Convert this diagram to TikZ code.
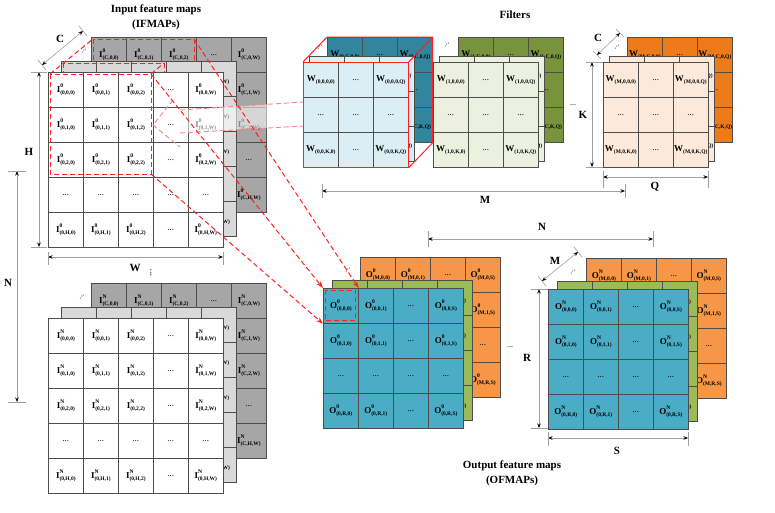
\documentclass[tikz,border=0pt]{standalone}
\usepackage{fontspec}
\setmainfont{Liberation Serif}
\usetikzlibrary{arrows.meta}
\definecolor{cellgray}{HTML}{4D4D4D}
\definecolor{ifback}{HTML}{A6A6A6}
\definecolor{ifmid}{HTML}{D9D9D9}
\definecolor{fzback}{HTML}{31859C}
\definecolor{fzfront}{HTML}{DBEEF4}
\definecolor{foback}{HTML}{77933C}
\definecolor{fofront}{HTML}{EBF1DE}
\definecolor{fmback}{HTML}{EE7B1A}
\definecolor{fmfront}{HTML}{FDE9D9}
\definecolor{ofront}{HTML}{4BACC6}
\definecolor{omid}{HTML}{9BBB59}
\definecolor{oback}{HTML}{F79646}
\definecolor{dimgray}{HTML}{A0A0A0}
\definecolor{redd}{HTML}{FF2020}

\newcommand\supsub[3]{\textbf{#1}\makebox[0pt][l]{\raisebox{4.7pt}{\fontsize{5.6}{5}\selectfont\textbf{#2}}}\raisebox{-2.4pt}{\fontsize{5.5}{5}\selectfont\textbf{(#3)}}}
\newcommand\Ic[2]{\supsub{I}{#1}{#2}}
\newcommand\Oc[2]{\supsub{O}{#1}{#2}}
\newcommand\Wc[1]{\textbf{W}\raisebox{-1.8pt}{\fontsize{5.5}{5}\selectfont\textbf{(#1)}}}
\newcommand\dd{...}
\newcommand\IFtext[4]{\ifnum#3=4 \dd\else\ifnum#4=4 \dd\else\Ic{#1}{#2,\ifcase#3\or0\or1\or2\or\or H\fi,\ifcase#4\or0\or1\or2\or\or W\fi}\fi\fi}
\newcommand\IFback[4]{\ifnum#3=1 \IFtext{#1}{#2}{#3}{#4}\else\ifnum#4=5 \IFtext{#1}{#2}{#3}{#4}\fi\fi}
\newcommand\IFmid[4]{\ifnum#4=5 \IFtext{#1}{#2}{#3}{#4}\fi}
\newcommand\Wtext[3]{\ifnum#2=2 \dd\else\ifnum#3=2 \dd\else\Wc{#1,\ifcase#2\or0\or\or K\fi,\ifcase#3\or0\or\or Q\fi}\fi\fi}
\newcommand\Wback[3]{\ifnum#2=1 \Wtext{#1}{#2}{#3}\else\ifnum#3=3 \Wtext{#1}{#2}{#3}\fi\fi}
\newcommand\Wmid[3]{\ifnum#3=3 \Wtext{#1}{#2}{#3}\fi}
\newcommand\Otext[4]{\ifnum#3=3 \dd\else\ifnum#4=3 \dd\else\Oc{#1}{#2,\ifcase#3\or0\or1\or\or R\fi,\ifcase#4\or0\or1\or\or S\fi}\fi\fi}
\newcommand\Oback[4]{\ifnum#3=1 \Otext{#1}{#2}{#3}{#4}\else\ifnum#4=4 \Otext{#1}{#2}{#3}{#4}\fi\fi}
\newcommand\Omid[4]{\ifnum#4=4 \Otext{#1}{#2}{#3}{#4}\fi}
\newcommand\drawlayer[7]{%
  \foreach \rr in {1,...,#5}{%
    \foreach \cc in {1,...,#4}{%
      \node[cellbox, fill=#6, anchor=north west] (#1-\rr-\cc) at ({#2+(\cc-1)*35},{#3+(\rr-1)*35}) {#7{\rr}{\cc}};
    }%
  }%
}

\begin{document}
\begin{tikzpicture}[x=1pt,y=-1pt,
  cellbox/.style={draw=cellgray, line width=0.7pt, minimum width=35pt, minimum height=35pt, inner sep=0pt, font=\fontsize{9}{9}\selectfont},
  dimline/.style={draw=dimgray, line width=0.6pt, {Stealth[length=4.5pt,width=3.5pt,color=black]}-{Stealth[length=4.5pt,width=3.5pt,color=black]}},
  extline/.style={draw=dimgray, line width=0.6pt},
  dimlabel/.style={font=\fontsize{11}{12}\selectfont\bfseries, inner sep=0pt},
  title/.style={font=\fontsize{11}{15}\selectfont\bfseries, align=center},
  reddash/.style={draw=redd, line width=1pt, dash pattern=on 5pt off 3pt},
  redarrow/.style={reddash, -{Stealth[length=7pt,width=5pt,color=redd]}},
  fade/.style={draw=redd!55, line width=0.9pt, dash pattern=on 5pt off 3pt},
  dots/.style={font=\fontsize{8}{8}\selectfont, inner sep=0pt},
  redcube/.style={draw=redd, line width=1pt, line join=round}
]
\useasboundingbox (0,0) rectangle (775,512);

% titles
\node[title] (tin) at (156,17) {Input feature maps\\(IFMAPs)};
\node[title] (tf) at (515,15) {Filters};
\node[title] (tout) at (512,473) {Output feature maps\\(OFMAPs)};

% IFMAP 0
\drawlayer{iab}{91}{37}{5}{5}{ifback}{\IFback{0}{C}}
\draw[reddash] (93,39) rectangle (194,139);
\drawlayer{iam}{61}{61}{5}{5}{ifmid}{\IFmid{0}{1}}
\draw[reddash] (63,63) rectangle (164,163);
\drawlayer{iaf}{48}{72}{5}{5}{white}{\IFtext{0}{0}}
\draw[reddash] (50,74) rectangle (151,174);
\draw[reddash] (50,74) -- (93,39);
\draw[reddash] (151,74) -- (164,63);
\node[dots, rotate=40] (dga) at (84,51) {...};

% IFMAP N
\drawlayer{inb}{91}{283}{5}{5}{ifback}{\IFback{N}{C}}
\drawlayer{inm}{61}{307}{5}{5}{ifmid}{\IFmid{N}{1}}
\drawlayer{inf}{48}{318}{5}{5}{white}{\IFtext{N}{0}}
\node[dots, rotate=40] (dgb) at (82,297) {...};

% IFMAP dimensions
\coordinate (cA1) at (42,65); \coordinate (cA2) at (83,31);
\draw[dimline] (cA1) -- (cA2);
\draw[extline] (38,60) -- (46,70);
\draw[extline] (79,26) -- (87,36);
\node[dimlabel] (lc1) at (60,39) {C};
\coordinate (hA1) at (39,72); \coordinate (hA2) at (39,247);
\draw[dimline] (hA1) -- (hA2);
\draw[extline] (31,72) -- (47,72);
\draw[extline] (31,247) -- (47,247);
\node[dimlabel] (lh) at (29,152) {H};
\coordinate (wA1) at (48,257); \coordinate (wA2) at (223,257);
\draw[dimline] (wA1) -- (wA2);
\draw[extline] (48,252) -- (48,265);
\draw[extline] (223,252) -- (223,265);
\node[dimlabel] (lw) at (135,268) {W};
\node[font=\fontsize{10}{10}\selectfont, inner sep=0pt, rotate=90] (vd) at (151,273) {...};
\coordinate (nA1) at (17,171); \coordinate (nA2) at (17,402);
\draw[dimline] (nA1) -- (nA2);
\draw[extline] (8,171) -- (26,171);
\draw[extline] (8,402) -- (26,402);
\node[dimlabel] (ln1) at (8,283) {N};

% Filters
\drawlayer{fab}{327}{37}{3}{3}{fzback}{\Wback{0,C}}
\drawlayer{fam}{309}{56}{3}{3}{fzfront}{\Wmid{0,1}}
\drawlayer{faf}{303}{62}{3}{3}{fzfront}{\Wtext{0,0}}
\draw[redcube] (faf-1-1.north west) -- (fab-1-1.north west) -- (fab-1-3.north east) -- (fab-3-3.south east) -- (faf-3-3.south east);
\draw[redcube] (faf-1-3.north east) -- (fab-1-3.north east);
\draw[redcube] (faf-1-1.north west) rectangle (faf-3-3.south east);
\node[dots, rotate=40] (dgf0) at (320,47) {...};

\drawlayer{fbb}{458}{37}{3}{3}{foback}{\Wback{1,C}}
\drawlayer{fbm}{439}{56}{3}{3}{fofront}{\Wmid{1,1}}
\drawlayer{fbf}{433}{62}{3}{3}{fofront}{\Wtext{1,0}}
\node[dots, rotate=40] (dgf1) at (447,45) {...};

\drawlayer{fmb}{627}{37}{3}{3}{fmback}{\Wback{M,C}}
\drawlayer{fmm}{609}{56}{3}{3}{fmfront}{\Wmid{M,1}}
\drawlayer{fmf}{603}{62}{3}{3}{fmfront}{\Wtext{M,0}}
\node[dots, rotate=40] (dgfm) at (617,47) {...};
\node[dots] (hdf) at (573,105) {...};

% filter dimensions
\coordinate (mF1) at (322,191); \coordinate (mF2) at (625,191);
\draw[dimline] (mF1) -- (mF2);
\draw[extline] (322,184) -- (322,198);
\draw[extline] (625,184) -- (625,198);
\node[dimlabel] (lm1) at (485,200) {M};
\coordinate (kF1) at (592,62); \coordinate (kF2) at (592,167);
\draw[dimline] (kF1) -- (kF2);
\draw[extline] (586,62) -- (603,62);
\draw[extline] (586,167) -- (603,167);
\node[dimlabel] (lk) at (583,115) {K};
\coordinate (qF1) at (603,177); \coordinate (qF2) at (708,177);
\draw[dimline] (qF1) -- (qF2);
\draw[extline] (603,171) -- (603,188);
\draw[extline] (708,171) -- (708,188);
\node[dimlabel] (lq) at (655,187) {Q};
\coordinate (cF1) at (597,55); \coordinate (cF2) at (620,33);
\draw[dimline] (cF1) -- (cF2);
\draw[extline] (593,51) -- (601,59);
\draw[extline] (616,29) -- (624,37);
\node[dimlabel] (lc2) at (598,38) {C};

% OFMAPs
\drawlayer{oab}{360}{257}{4}{4}{oback}{\Oback{0}{M}}
\drawlayer{oam}{332}{280}{4}{4}{omid}{\Omid{0}{1}}
\drawlayer{oaf}{323}{288}{4}{4}{ofront}{\Otext{0}{0}}
\node[dots, rotate=40] (dgo0) at (348,270) {...};
\drawlayer{onb}{586}{258}{4}{4}{oback}{\Oback{N}{M}}
\drawlayer{onm}{557}{281}{4}{4}{omid}{\Omid{N}{1}}
\drawlayer{onf}{548}{289}{4}{4}{ofront}{\Otext{N}{0}}
\node[dots, rotate=40] (dgo1) at (573,272) {...};
\node[dots] (hdo) at (510,347) {...};

% OFMAP dimensions
\coordinate (nO1) at (428,239); \coordinate (nO2) at (653,239);
\draw[dimline] (nO1) -- (nO2);
\draw[extline] (428,231) -- (428,247);
\draw[extline] (653,231) -- (653,247);
\node[dimlabel] (ln2) at (542,227) {N};
\coordinate (mO1) at (542,281); \coordinate (mO2) at (578,252);
\draw[dimline] (mO1) -- (mO2);
\draw[extline] (538,276) -- (546,286);
\draw[extline] (574,247) -- (582,257);
\node[dimlabel] (lm2) at (555,261) {M};
\coordinate (rO1) at (539,289); \coordinate (rO2) at (539,428);
\draw[dimline] (rO1) -- (rO2);
\draw[extline] (531,289) -- (548,289);
\draw[extline] (531,428) -- (548,428);
\node[dimlabel] (lr) at (527,358) {R};
\coordinate (sO1) at (548,438); \coordinate (sO2) at (688,438);
\draw[dimline] (sO1) -- (sO2);
\draw[extline] (548,432) -- (548,446);
\draw[extline] (688,432) -- (688,446);
\node[dimlabel] (ls) at (617,451) {S};

% projection band to filter
\coordinate (bA) at (180,110); \coordinate (bB) at (303,102);
\coordinate (bC) at (180,133); \coordinate (bD) at (303,126);
\fill[white, opacity=0.55] (bA) -- (bB) -- (bD) -- (bC) -- cycle;
\draw[fade] (bA) -- (bB);
\draw[fade] (bC) -- (bD);
\coordinate (chA) at (173,100); \coordinate (chB) at (153,125); \coordinate (chC) at (180,147);
\draw[fade] (chA) -- (chB) -- (chC);

% window to output pixel
\draw[reddash] ([shift={(2,2)}]oaf-1-1.north west) rectangle ([shift={(-3,-3)}]oaf-1-1.south east);
\coordinate (wTR) at (151,74); \coordinate (wBK) at (194,39); \coordinate (wBR) at (151,174);
\draw[redarrow] (wBK) -- (oaf-1-1.north east);
\draw[redarrow] (wTR) -- (oaf-1-1.north west);
\draw[redarrow] (wBR) -- (oaf-1-1.south west);
\end{tikzpicture}
\end{document}
